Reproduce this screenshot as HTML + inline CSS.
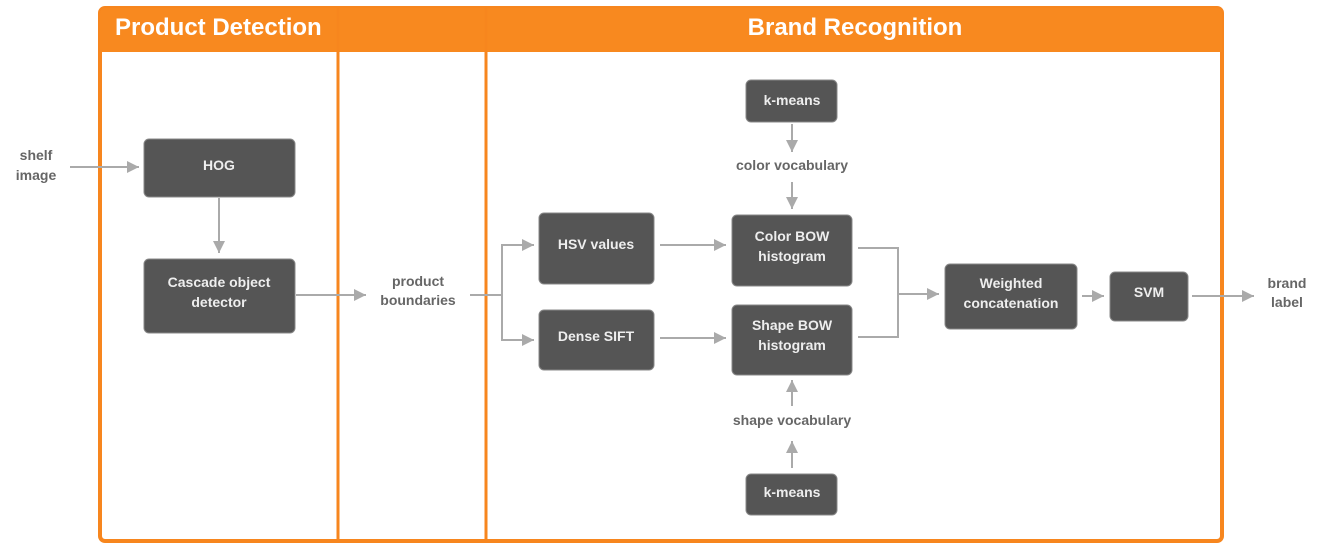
<!DOCTYPE html>
<html><head><meta charset="utf-8"><style>
html,body{margin:0;padding:0;background:#fff;width:1330px;height:553px;overflow:hidden}
text{font-family:"Liberation Sans",sans-serif;font-weight:bold}
</style></head><body>
<svg width="1330" height="553" viewBox="0 0 1330 553" xmlns="http://www.w3.org/2000/svg">
<defs>
<marker id="b" viewBox="0 0 10 10" markerWidth="16" markerHeight="12" refX="10" refY="5" orient="auto" markerUnits="userSpaceOnUse"><path d="M0,0 L10,5 L0,10 z" fill="#aaa"/></marker>
</defs>
<rect x="100" y="8" width="1122" height="533" rx="5" fill="#fff" stroke="#f7861e" stroke-width="4"/>
<path d="M100,13 a5,5 0 0 1 5,-5 H1217 a5,5 0 0 1 5,5 V52 H100 z" fill="#f8891f"/>
<line x1="338" y1="8" x2="338" y2="541" stroke="#f7861e" stroke-width="3"/>
<line x1="486" y1="8" x2="486" y2="541" stroke="#f7861e" stroke-width="3"/>
<text x="115" y="35" fill="#fff" font-size="24">Product Detection</text>
<text x="855" y="35" fill="#fff" font-size="24" text-anchor="middle">Brand Recognition</text>
<g fill="#555" stroke="#888" stroke-width="1">
<rect x="144" y="139" width="151" height="58" rx="5"/>
<rect x="144" y="259" width="151" height="74" rx="5"/>
<rect x="539" y="213" width="115" height="71" rx="5"/>
<rect x="539" y="310" width="115" height="60" rx="5"/>
<rect x="732" y="215" width="120" height="71" rx="5"/>
<rect x="732" y="305" width="120" height="70" rx="5"/>
<rect x="746" y="80" width="91" height="42" rx="5"/>
<rect x="746" y="474" width="91" height="41" rx="5"/>
<rect x="945" y="264" width="132" height="65" rx="5"/>
<rect x="1110" y="272" width="78" height="49" rx="5"/>
</g>
<g fill="#eee" font-size="14" text-anchor="middle">
<text x="219" y="170">HOG</text>
<text x="219" y="287">Cascade object</text><text x="219" y="307">detector</text>
<text x="596" y="249">HSV values</text>
<text x="596" y="341">Dense SIFT</text>
<text x="792" y="241">Color BOW</text><text x="792" y="261">histogram</text>
<text x="792" y="330">Shape BOW</text><text x="792" y="350">histogram</text>
<text x="792" y="105">k-means</text>
<text x="792" y="497">k-means</text>
<text x="1011" y="288">Weighted</text><text x="1011" y="308">concatenation</text>
<text x="1149" y="297">SVM</text>
</g>
<g fill="#666" font-size="14" text-anchor="middle">
<text x="36" y="160">shelf</text><text x="36" y="180">image</text>
<text x="418" y="286">product</text><text x="418" y="305">boundaries</text>
<text x="792" y="170">color vocabulary</text>
<text x="792" y="425">shape vocabulary</text>
<text x="1287" y="288">brand</text><text x="1287" y="307">label</text>
</g>
<g stroke="#aaa" stroke-width="2" fill="none" marker-end="url(#b)">
<path d="M70,167 H139"/>
<path d="M219,198 V253"/>
<path d="M296,295 H366"/>
<path d="M470,295 H502 V245 H534"/>
<path d="M502,295 V340 H534"/>
<path d="M660,245 H726"/>
<path d="M660,338 H726"/>
<path d="M792,124 V152"/>
<path d="M792,182 V209"/>
<path d="M792,468 V441"/>
<path d="M792,406 V380"/>
<path d="M898,294 H939"/>
<path d="M1082,296 H1104"/>
<path d="M1192,296 H1254"/>
</g>
<path d="M858,248 H898 V337 H858" stroke="#aaa" stroke-width="2" fill="none"/>
</svg>
</body></html>
